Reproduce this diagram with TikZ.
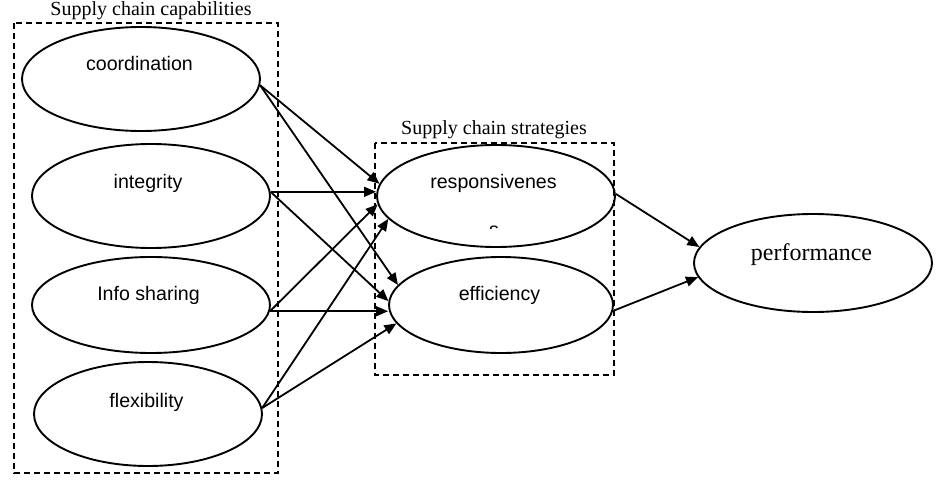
\documentclass[tikz,border=0pt]{standalone}
\usepackage{fontspec}
\setmainfont{Liberation Serif}
\newfontfamily\arialf{Liberation Sans}
\usetikzlibrary{shapes.geometric,arrows.meta}
\begin{document}
\begin{tikzpicture}[x=1pt,y=-1pt,
  oval/.style={draw,ellipse,line width=1.9pt,inner sep=0pt},
  lbl/.style={anchor=base,inner sep=0pt,font=\arialf\fontsize{19.6}{22}\selectfont},
  ttl/.style={anchor=base,inner sep=0pt,font=\fontsize{20}{24}\selectfont},
  grp/.style={draw,dash pattern=on 6pt off 4pt,line width=1.8pt},
  arr/.style={line width=1.8pt,-{Triangle[length=12pt,width=10pt]}}]
\useasboundingbox (0,0) rectangle (940,484);
\fill[white] (0,0) rectangle (940,484);
% group boxes
\draw[grp] (14,23) rectangle (278,473);
\draw[grp] (375,143) rectangle (614,375);
\node[ttl] (t1) at (151,16) {Supply chain capabilities};
\node[ttl] (t2) at (494,135) {Supply chain strategies};
% ellipses
\node[oval,minimum width=238pt,minimum height=104pt] (coord) at (141,79) {};
\node[oval,minimum width=238pt,minimum height=104pt] (integ) at (151,196) {};
\node[oval,minimum width=238pt,minimum height=96pt] (info) at (151,305) {};
\node[oval,minimum width=228pt,minimum height=104pt] (flex) at (148,414) {};
\node[oval,minimum width=238pt,minimum height=102pt] (resp) at (496,196) {};
\node[oval,minimum width=224pt,minimum height=96pt] (eff) at (501,305) {};
\node[oval,minimum width=238pt,minimum height=98pt] (perf) at (813,263) {};
% labels
\node[lbl] (coordT) at (139.5,71) {coordination};
\node[lbl] (integT) at (148,188) {integrity};
\node[lbl] (infoT) at (148.5,300) {Info sharing};
\node[lbl] (flexT) at (146.5,407) {flexibility};
\node[lbl] (respT) at (493.5,188) {responsivenes};
\node[lbl] (effT) at (499.5,300) {efficiency};
\node[ttl,font=\fontsize{24}{28}\selectfont] (perfT) at (811.5,260) {performance};
\begin{scope}
\clip (484,221) rectangle (504,228);
\node[lbl] (respS) at (494,236) {s};
\end{scope}
% arrows
\draw[arr] (coord.-3) -- (resp.174.7);
\draw[arr] (coord.-3) -- (eff.169);
\draw[arr] (integ.2) -- (integ.2 -| resp.west);
\draw[arr] (integ.2) -- (eff.178.5);
\draw[arr] (info.-3.4) -- (resp.-176);
\draw[arr] (info.-3.4) -- (info.-3.4 -| eff.west);
\draw[arr] (flex.3) -- (resp.-168.8);
\draw[arr] (flex.3) -- (eff.-170);
\draw[arr] (resp.1.5) -- (perf.172);
\draw[arr] (eff.-3.6) -- (perf.-173);
\end{tikzpicture}
\end{document}
